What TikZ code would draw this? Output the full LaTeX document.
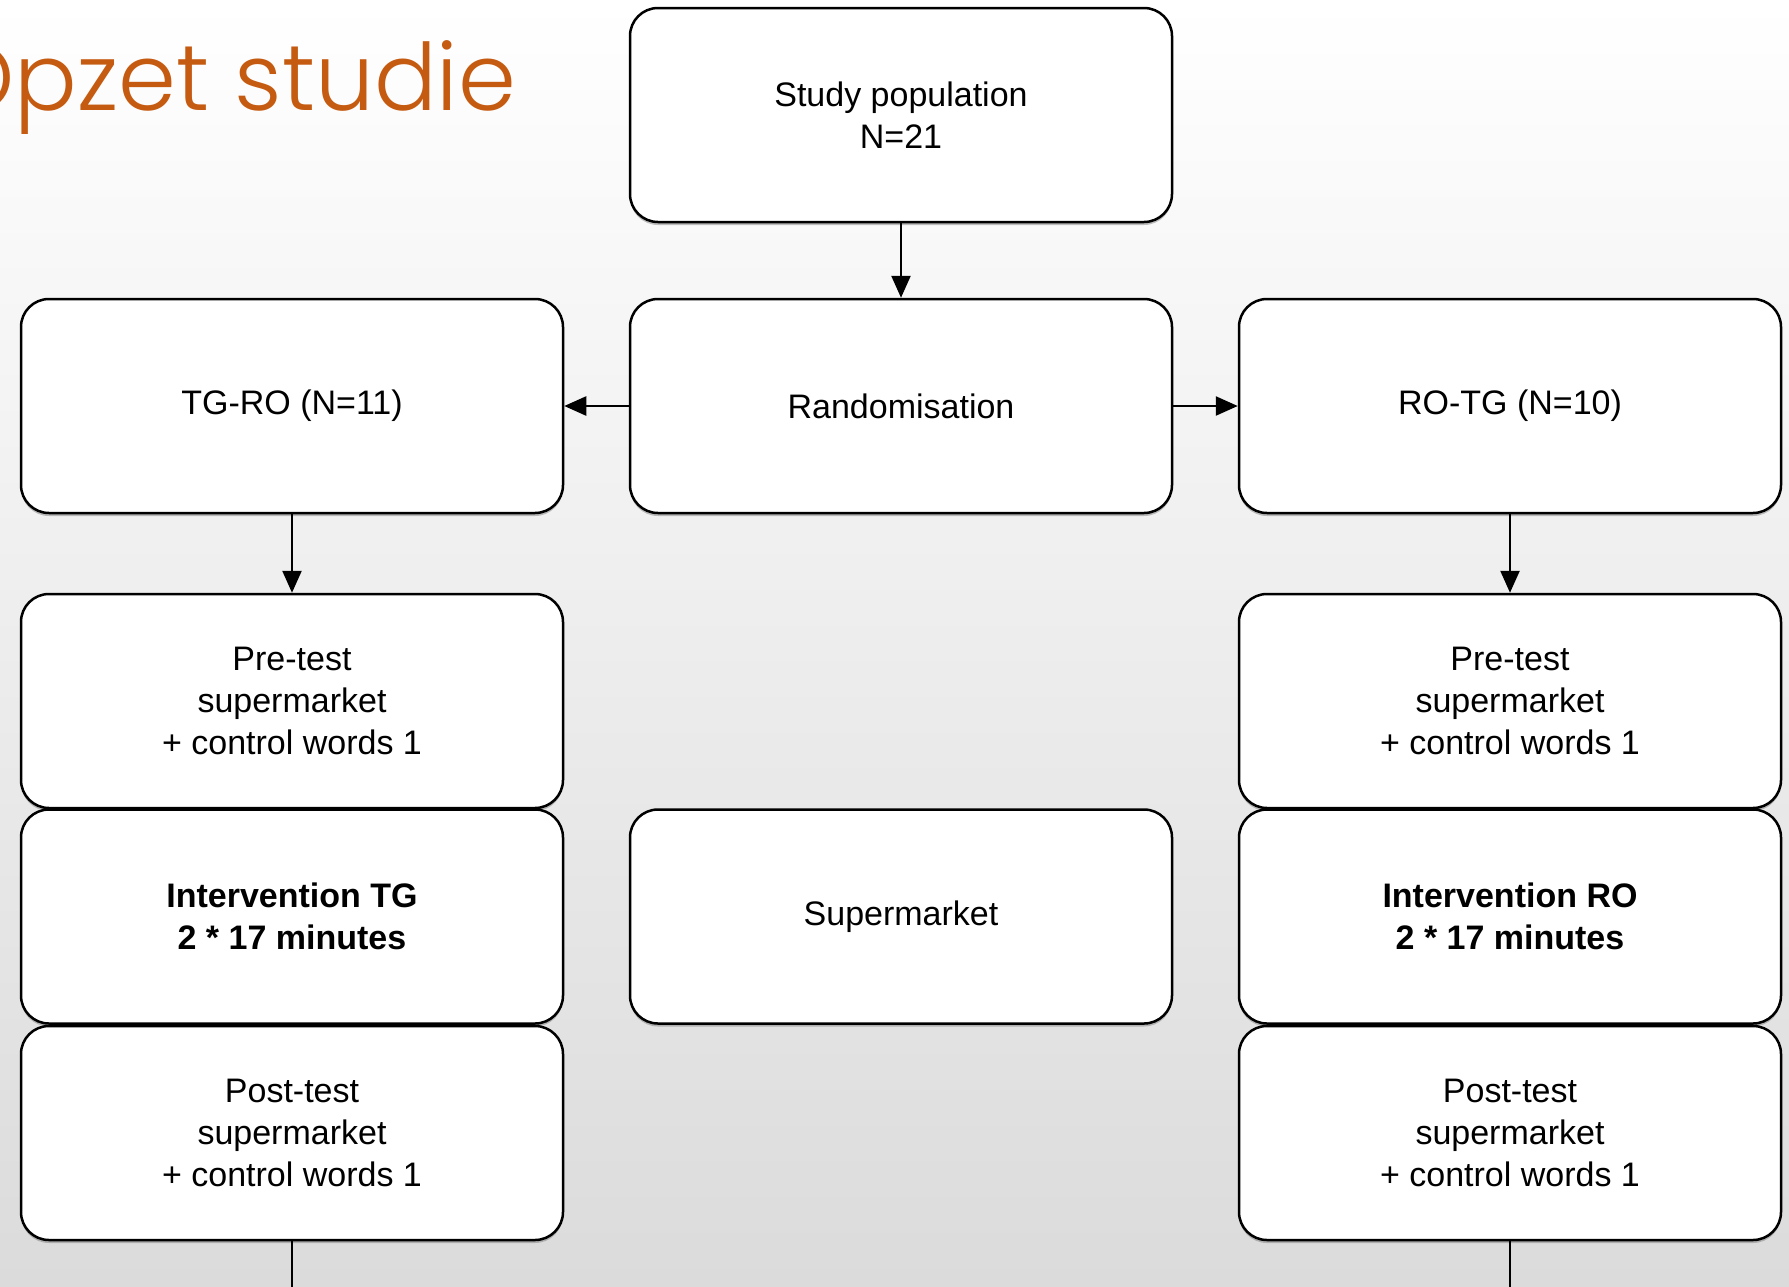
\documentclass[tikz,border=0pt]{standalone}
\usepackage{fontspec}
\setmainfont{Liberation Sans}
\newfontfamily\titlefont{Poppins Light}
\usetikzlibrary{positioning, arrows.meta, shadows}

\definecolor{titleorange}{HTML}{C55A11}
\definecolor{bggray}{HTML}{DCDBDB}

\begin{document}
\begin{tikzpicture}[%
    x=1pt, y=1pt,
    >={Triangle[length=22pt, width=19pt]},
    node distance=291pt,
    on grid,
    box/.style={draw, line width=2.5pt, rounded corners=28pt, fill=white,
      minimum width=542pt, minimum height=214pt, align=center,
      font=\fontsize{34}{42}\selectfont,
      drop shadow={shadow xshift=0pt, shadow yshift=-3pt, fill=gray, opacity=.5}},
    boldbox/.style={box, font=\fontsize{34}{42}\selectfont\bfseries},
    heading/.style={font=\titlefont\fontsize{93}{100}\selectfont, text=titleorange, anchor=base west, inner sep=0pt},
    line width=2.5pt
  ]

  \useasboundingbox (0,0) rectangle (1789,-1286);
  \shade[top color=white, bottom color=bggray] (0,0) rectangle (1789,-1286);

  \node[heading] (title) at (-60,-110) {Opzet studie};

  \node[box] (study) at (901,-115) {Study population\\N=21};
  \node[box] (random) [below=of study] {Randomisation};
  \node[box] (tgro) [left=609pt of random] {TG-RO (N=11)};
  \node[box] (rotg) [right=609pt of random] {RO-TG (N=10)};

  \node[box] (pretg) [below=295pt of tgro] {Pre-test\\supermarket\\+ control words 1};
  \node[boldbox] (inttg) [below=215.5pt of pretg] {Intervention TG\\2 * 17 minutes};
  \node[box] (posttg) [below=216.5pt of inttg] {Post-test\\supermarket\\+ control words 1};

  \node[box] (super) [below=510.5pt of random] {Supermarket};

  \node[box] (prero) [below=295pt of rotg] {Pre-test\\supermarket\\+ control words 1};
  \node[boldbox] (intro) [below=215.5pt of prero] {Intervention RO\\2 * 17 minutes};
  \node[box] (postro) [below=216.5pt of intro] {Post-test\\supermarket\\+ control words 1};

  \coordinate (tgexit) at (posttg.south |- 0,-1320);
  \coordinate (roexit) at (postro.south |- 0,-1320);

  \path[->]
            (study) edge (random)
            (random) edge (tgro)
            (random) edge (rotg)
            (tgro) edge (pretg)
            (rotg) edge (prero);
  \path
            (posttg) edge (tgexit)
            (postro) edge (roexit);
\end{tikzpicture}
\end{document}
